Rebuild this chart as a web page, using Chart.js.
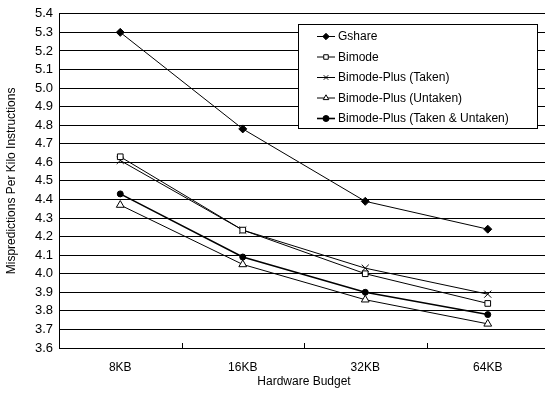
<!DOCTYPE html>
<html>
<head>
<meta charset="utf-8">
<style>
  html, body { margin: 0; padding: 0; background: #fff; overflow: hidden; }
  #wrap { width: 545px; height: 393px; overflow: hidden; }
</style>
</head>
<body>
<div id="wrap"><canvas id="chartMiss" width="549" height="393"></canvas></div>
<script src="https://cdn.jsdelivr.net/npm/chart.js@4.4.6/dist/chart.umd.min.js"></script>
<script>
// datos
const budgets = ['8KB', '16KB', '32KB', '64KB'];
const gshare = [5.30, 4.78, 4.39, 4.24];
const bimode = [4.63, 4.235, 4.00, 3.84];
const plusTaken = [4.61, 4.235, 4.03, 3.89];
const plusUntaken = [4.37, 4.05, 3.86, 3.73];
const plusBoth = [4.43, 4.09, 3.90, 3.78];

const FONT = '"Liberation Sans", Arial, sans-serif';

// leyenda dibujada dentro del area
const boxLegend = {
  id: 'boxLegend',
  afterDraw(chart) {
    const ctx = chart.ctx;
    const x0 = 298, y0 = 24, w = 239, h = 104;
    ctx.save();
    ctx.fillStyle = '#fff';
    ctx.fillRect(x0, y0, w, h);
    ctx.strokeStyle = '#000';
    ctx.lineWidth = 1;
    ctx.strokeRect(x0 + 0.5, y0 + 0.5, w, h);
    ctx.font = '12px ' + FONT;
    ctx.textBaseline = 'middle';
    chart.data.datasets.forEach(function(ds, i) {
      const y = y0 + 12 + i * 20.5;
      ctx.strokeStyle = '#000';
      ctx.lineWidth = ds.borderWidth;
      ctx.beginPath();
      ctx.moveTo(317, y + 0.5);
      ctx.lineTo(335, y + 0.5);
      ctx.stroke();
      ctx.fillStyle = ds.pointBackgroundColor;
      ctx.lineWidth = 1;
      Chart.helpers.drawPoint(ctx, {
        pointStyle: ds.pointStyle,
        radius: Math.min(ds.pointRadius, 3.2),
        rotation: 0,
        borderWidth: 1
      }, 326, y + 0.5);
      ctx.fillStyle = '#000';
      ctx.fillText(ds.label, 338, y + 1);
    });
    ctx.restore();
  }
};

// marcas de x hacia adentro
const innerTicks = {
  id: 'innerTicks',
  afterDraw(chart) {
    const ctx = chart.ctx;
    const xs = chart.scales.x;
    const bottom = chart.chartArea.bottom;
    ctx.save();
    ctx.strokeStyle = '#000';
    ctx.lineWidth = 1;
    for (let i = 0; i < budgets.length - 1; i++) {
      const px = Math.round((xs.getPixelForValue(i) + xs.getPixelForValue(i + 1)) / 2) + 0.5;
      ctx.beginPath();
      ctx.moveTo(px, bottom);
      ctx.lineTo(px, bottom - 5);
      ctx.stroke();
    }
    ctx.restore();
  }
};

function serie(label, data, style, fill, radius, width) {
  return {
    label: label,
    data: data,
    borderColor: '#000',
    borderWidth: width,
    pointStyle: style,
    pointRadius: radius,
    pointHoverRadius: radius,
    pointBackgroundColor: fill,
    pointBorderColor: '#000',
    pointBorderWidth: 1,
    tension: 0
  };
}

const chartMiss = new Chart(document.getElementById('chartMiss'), {
  type: 'line',
  data: {
    labels: budgets,
    datasets: [
      serie('Gshare', gshare, 'rectRot', '#000', 4, 1),
      serie('Bimode', bimode, 'rect', '#fff', 4, 1),
      serie('Bimode-Plus (Taken)', plusTaken, 'crossRot', '#fff', 5, 1),
      serie('Bimode-Plus (Untaken)', plusUntaken, 'triangle', '#fff', 4.5, 1),
      serie('Bimode-Plus (Taken & Untaken)', plusBoth, 'circle', '#000', 3, 1.6)
    ]
  },
  options: {
    responsive: false,
    animation: false,
    layout: { autoPadding: false, padding: { top: 11, right: 0, left: 0, bottom: 0 } },
    plugins: {
      legend: { display: false },
      tooltip: { enabled: false }
    },
    scales: {
      x: {
        offset: true,
        grid: { display: false },
        border: { color: '#000', width: 1 },
        ticks: { color: '#000', font: { family: FONT, size: 12 }, padding: 4 },
        title: { display: true, text: 'Hardware Budget', color: '#000', font: { family: FONT, size: 12 }, padding: { top: 0, bottom: 4 } },
        afterFit(scale) { scale.height = 45; }
      },
      y: {
        min: 3.6,
        max: 5.4,
        grid: { color: '#000', lineWidth: 1, drawTicks: false },
        border: { color: '#000', width: 1 },
        ticks: {
          stepSize: 0.1,
          autoSkip: false,
          color: '#000',
          font: { family: FONT, size: 13 },
          padding: 6,
          callback: function(v) { return Number(v).toFixed(1); }
        },
        title: { display: true, text: 'Mispredictions Per Kilo Instructions', color: '#000', font: { family: FONT, size: 12 }, padding: { bottom: 2 } },
        afterFit(scale) { scale.width = 59; }
      }
    }
  },
  plugins: [innerTicks, boxLegend]
});
</script>
</body>
</html>
